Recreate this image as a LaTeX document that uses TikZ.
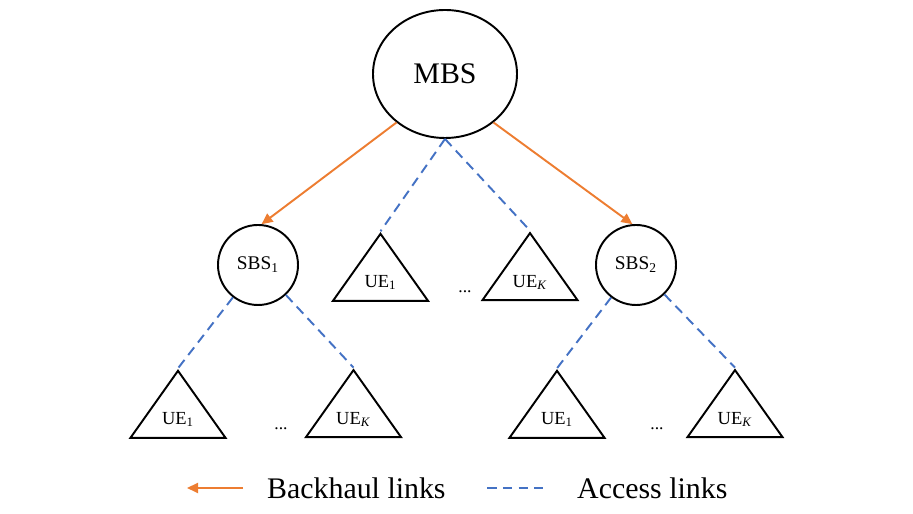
\documentclass[tikz,border=0pt]{standalone}
\usepackage{fontspec}
\setmainfont{Liberation Serif}
\usepackage{tikz}
\usetikzlibrary{arrows.meta,calc,positioning,shapes.geometric}
\definecolor{bhorange}{RGB}{237,125,49}
\definecolor{accblue}{RGB}{68,114,196}
\tikzset{bs/.style={draw,circle,line width=1.1pt,minimum size=1.6cm,inner sep=0pt,font=\fontsize{11}{12}\selectfont},
  ue/.style={draw,isosceles triangle,shape border rotate=90,isosceles triangle stretches,line width=1.1pt,
    minimum width=1.9cm,minimum height=1.34cm,inner sep=0pt,font=\fontsize{10.5}{12}\selectfont},
  bh/.style={-{Triangle[length=2.2mm,width=2mm]},line width=1.1pt,bhorange},
  acc/.style={line width=1.1pt,accblue,dash pattern=on 5.5pt off 3.5pt}}
\begin{document}
\begin{tikzpicture}
\useasboundingbox (0,0) rectangle (18.26,10.28);
\node[draw,ellipse,line width=1.1pt,minimum width=2.88cm,minimum height=2.56cm,font=\fontsize{17}{20}\selectfont] (MBS) at (8.9,8.8){MBS};
\node[bs] (S1) at (5.16,4.98){SBS\textsubscript{1}};
\node[bs] (S2) at (12.72,4.98){SBS\textsubscript{2}};
\node[ue] (m1) at (7.61,4.63){UE\textsubscript{1}};
\node[ue] (mK) at (10.6,4.63){UE\textsubscript{\textit{K}}};
\node (md) at (9.3,4.45){...};
\node[ue] (a1) at (3.56,1.89){UE\textsubscript{1}};
\node[ue] (aK) at (7.07,1.89){UE\textsubscript{\textit{K}}};
\node (ad) at (5.62,1.7){...};
\node[ue] (b1) at (11.14,1.89){UE\textsubscript{1}};
\node[ue] (bK) at (14.7,1.89){UE\textsubscript{\textit{K}}};
\node (bd) at (13.14,1.7){...};
\draw[bh] (MBS.-135)--(S1.85); \draw[bh] (MBS.-45)--(S2.95);
\draw[acc] (MBS.south)--(m1.apex); \draw[acc] (MBS.south)--(mK.apex);
\draw[acc] (S1)--(a1.apex); \draw[acc] (S1)--(aK.apex);
\draw[acc] (S2)--(b1.apex); \draw[acc] (S2)--(bK.apex);
% legend
\coordinate (l1) at (4.86,0.52); \coordinate (l0) at (3.74,0.52);
\draw[bh] (l1)--(l0);
\node[anchor=west,font=\fontsize{17}{20}\selectfont] (lb) at (5.22,0.52){Backhaul links};
\coordinate (d0) at (9.74,0.52); \coordinate (d1) at (10.85,0.52);
\draw[acc] (d0)--(d1);
\node[anchor=west,font=\fontsize{17}{20}\selectfont] (la) at (11.42,0.52){Access links};
\end{tikzpicture}
\end{document}
